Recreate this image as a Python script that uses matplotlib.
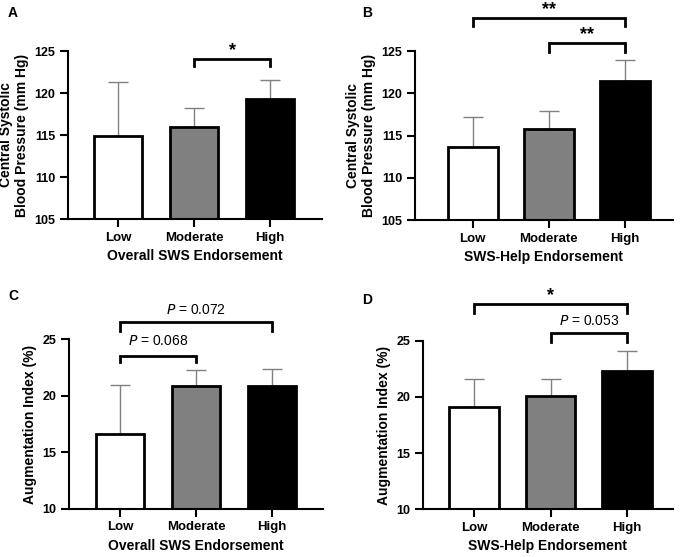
import matplotlib
matplotlib.use('Agg')
import matplotlib.pyplot as plt

plt.rcParams['font.family'] = ['Liberation Sans', 'DejaVu Sans']

groups = ['Low', 'Moderate', 'High']
bar_colors = ['white', '#808080', 'black']

# panel values (mean, upper error end)
a_mean = [114.9, 116.0, 119.3]
a_top = [121.3, 118.2, 121.5]
b_mean = [113.6, 115.8, 121.4]
b_top = [117.2, 117.9, 123.9]
c_mean = [16.6, 20.9, 20.85]
c_top = [20.95, 22.3, 22.4]
d_mean = [19.07, 20.05, 22.33]
d_top = [21.6, 21.55, 24.1]

# brackets: (from, to, line y, drop y, label, label y)
a_brackets = [(1, 2, 124.1, 123.2, '*', 125.05)]
b_brackets = [(0, 2, 128.9, 128.0, '**', 129.85), (1, 2, 126.0, 124.9, '**', 126.95)]
c_brackets = [(0, 1, 23.5, 23.0, 'P', 24.85), (0, 2, 26.5, 25.75, 'P2', 27.6)]
d_brackets = [(0, 2, 28.26, 27.5, '*', 29.05), (1, 2, 25.65, 24.9, 'P3', 26.75)]
p_labels = {'P': '0.068', 'P2': '0.072', 'P3': '0.053'}

fig = plt.figure(figsize=(6.8, 5.57), dpi=100)


def panel(rect, means, tops, ylim, yticks, xlim, width, ylabel, xlabel, brackets, letter, lpos):
    ax = fig.add_axes(rect)
    x = list(range(len(groups)))
    up = [t - m for t, m in zip(tops, means)]
    ax.errorbar(x, means, yerr=[[0] * 3, up], fmt='none', ecolor='#808080',
                elinewidth=1.0, capsize=7.5, capthick=1.0, zorder=1)
    ax.bar(x, [m - ylim[0] for m in means], bottom=ylim[0], width=width,
           color=bar_colors, edgecolor='black', linewidth=2.0, zorder=2)
    ax.set_ylim(ylim)
    ax.set_xlim(xlim)
    ax.set_yticks(yticks)
    ax.set_xticks(x)
    ax.set_xticklabels(groups, fontsize=9.5, fontweight='bold')
    for t in ax.get_yticklabels():
        t.set_fontsize(9)
        t.set_fontweight('bold')
    ax.tick_params(width=1.5, length=6, direction='out', pad=3)
    for s in ['top', 'right']:
        ax.spines[s].set_visible(False)
    for s in ['left', 'bottom']:
        ax.spines[s].set_linewidth(1.5)
    ax.set_ylabel(ylabel, fontsize=10, fontweight='bold', labelpad=4)
    ax.set_xlabel(xlabel, fontsize=10, fontweight='bold', labelpad=4)
    for i, j, yl, yd, lab, ty in brackets:
        ax.plot([i, i, j, j], [yd, yl, yl, yd], color='black', lw=2.0,
                clip_on=False, solid_joinstyle='miter')
        if lab in p_labels:
            ax.text((i + j) / 2, ty, '$\\it{P}$ = ' + p_labels[lab], ha='center',
                    va='center', fontsize=10)
        else:
            ax.text((i + j) / 2, ty, lab, ha='center', va='center',
                    fontsize=13, fontweight='bold')
    fig.text(lpos[0], lpos[1], letter, fontsize=10, fontweight='bold',
             ha='left', va='center')
    return ax


panel([0.100, 0.6068, 0.3735, 0.3016], a_mean, a_top, (105, 125), [105, 110, 115, 120, 125],
      (-0.66, 2.68), 0.63, 'Central Systolic\nBlood Pressure (mm Hg)',
      'Overall SWS Endorsement', a_brackets, 'A', (8 / 680, 1 - 13 / 557))
panel([0.6103, 0.605, 0.379, 0.3034], b_mean, b_top, (105, 125), [105, 110, 115, 120, 125],
      (-0.76, 2.63), 0.66, 'Central Systolic\nBlood Pressure (mm Hg)',
      'SWS-Help Endorsement', b_brackets, 'B', (362 / 680, 1 - 13 / 557))
panel([0.1015, 0.0867, 0.3735, 0.304], c_mean, c_top, (10, 25), [10, 15, 20, 25],
      (-0.67, 2.67), 0.64, 'Augmentation Index (%)',
      'Overall SWS Endorsement', c_brackets, 'C', (8 / 680, 1 - 296 / 557))
panel([0.622, 0.0856, 0.3676, 0.3027], d_mean, d_top, (10, 25), [10, 15, 20, 25],
      (-0.67, 2.6), 0.65, 'Augmentation Index (%)',
      'SWS-Help Endorsement', d_brackets, 'D', (362 / 680, 1 - 300 / 557))

fig.savefig('out.png', dpi=100)
